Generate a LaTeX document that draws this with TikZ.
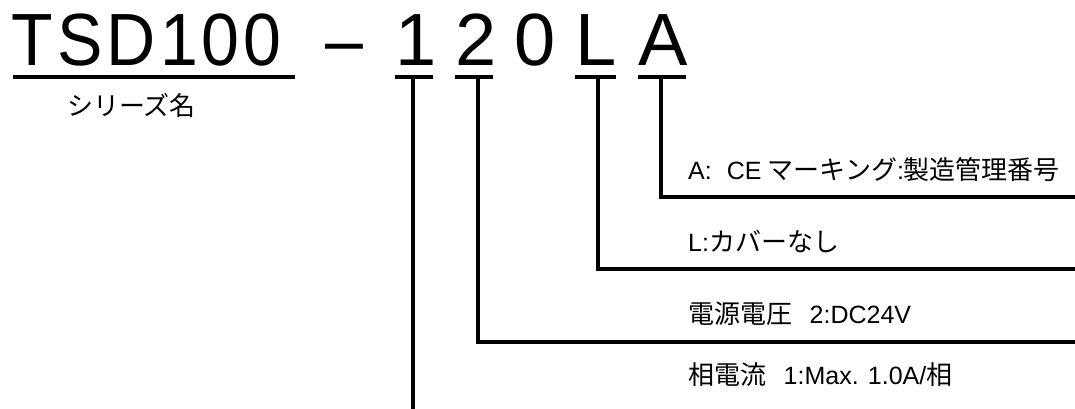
\documentclass[tikz,border=0pt]{standalone}
\usepackage{fontspec}
\setmainfont{Liberation Sans}
\newfontfamily\jpfont{Noto Sans CJK JP}
\newfontfamily\spacedfont[LetterSpace=6]{Liberation Sans}
\begin{document}
\begin{tikzpicture}[x=1pt,y=-1pt,
  big/.style={inner sep=0pt,anchor=base west,font=\fontsize{74}{74}\selectfont},
  lbl/.style={inner sep=0pt,anchor=base west,font=\fontsize{25}{25}\selectfont},
  uline/.style={line width=4pt},
  conn/.style={line width=3.5pt,line join=miter}]
\useasboundingbox[fill=white] (0,0) rectangle (1075,409);
% code characters
\node[big] (tsd) at (11.5,65.5) {\scalebox{0.92}[1]{\spacedfont TSD100}};
\node[big] (dash) at (325,65.5) {\scalebox{0.92}[1]{–}};
\node[big] (c1) at (395,65.5) {1};
\node[big] (c2) at (455,65.5) {2};
\node[big] (c0) at (514,65.5) {0};
\node[big] (cL) at (575,65.5) {L};
\node[big] (cA) at (638,65.5) {A};
% underlines
\coordinate (tsdl) at (13,77);  \coordinate (tsdr) at (295,77);
\coordinate (u1l) at (395,77);  \coordinate (u1r) at (433,77);
\coordinate (u2l) at (455,77);  \coordinate (u2r) at (493,77);
\coordinate (uLl) at (575,77);  \coordinate (uLr) at (616,77);
\coordinate (uAl) at (638,77);  \coordinate (uAr) at (686,77);
\draw[uline] (tsdl) -- (tsdr);
\draw[uline] (u1l) -- (u1r);
\draw[uline] (u2l) -- (u2r);
\draw[uline] (uLl) -- (uLr);
\draw[uline] (uAl) -- (uAr);
% connector start points
\coordinate (s1) at (413,77);
\coordinate (s2) at (478,77);
\coordinate (sL) at (598,77);
\coordinate (sA) at (661,77);
% connector end points
\coordinate (e1) at (413,409);
\coordinate (e2) at (1075,342);
\coordinate (eL) at (1075,269);
\coordinate (eA) at (1075,197);
\draw[conn] (s1) -- (e1);
\draw[conn] (s2) |- (e2);
\draw[conn] (sL) |- (eL);
\draw[conn] (sA) |- (eA);
% labels
\node[lbl] (series) at (67,115) {\fontsize{26}{26}\jpfont シリーズ名};
\node[lbl] (lA) at (688,179) {A:\hspace{0.6em}CE\hspace{0.25em}{\fontsize{26}{26}\jpfont マーキング}:{\fontsize{26}{26}\jpfont 製造管理番号}};
\node[lbl] (lL) at (688,251) {L:{\fontsize{26}{26}\jpfont カバーなし}};
\node[lbl] (l2) at (688,323) {{\fontsize{26}{26}\jpfont 電源電圧}\hspace{0.7em}2:DC24V};
\node[lbl] (l1) at (688,384) {{\fontsize{26}{26}\jpfont 相電流}\hspace{0.7em}1:Max. 1.0A/{\fontsize{26}{26}\jpfont 相}};
\end{tikzpicture}
\end{document}
